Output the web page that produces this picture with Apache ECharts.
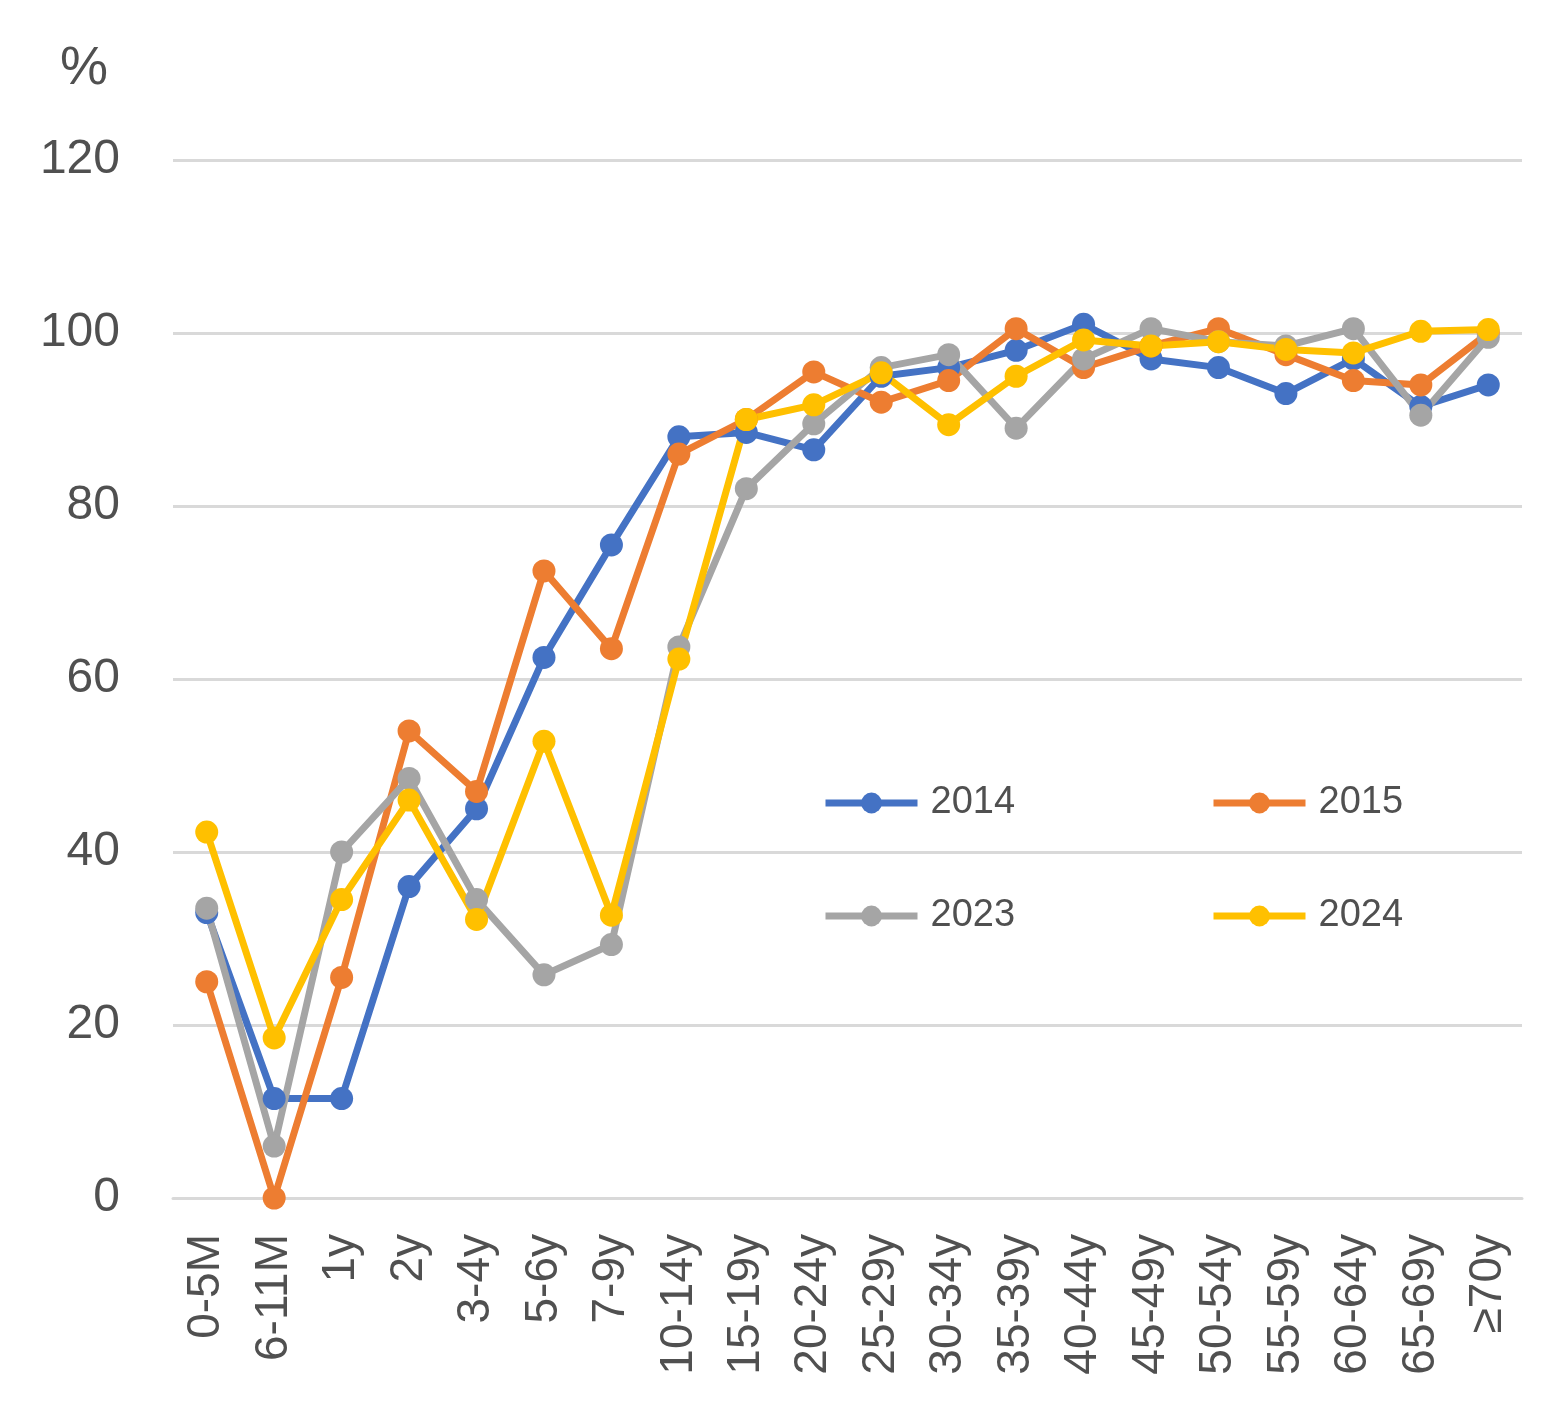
<!DOCTYPE html>
<html>
<head>
<meta charset="utf-8">
<script src="https://cdn.jsdelivr.net/npm/echarts@6/dist/echarts.min.js"></script>
<style>
html,body{margin:0;padding:0;background:#fff;}
#c{width:1560px;height:1415px;}
</style>
</head>
<body>
<div id="c"></div>
<script>
const categories = ['0-5M','6-11M','1y','2y','3-4y','5-6y','7-9y','10-14y','15-19y','20-24y','25-29y','30-34y','35-39y','40-44y','45-49y','50-54y','55-59y','60-64y','65-69y','≥70y'];
const s2014 = [33, 11.5, 11.5, 36, 45, 62.5, 75.5, 88, 88.5, 86.5, 95, 96, 98, 101, 97, 96, 93, 97, 91.5, 94];
const s2015 = [25, 0, 25.5, 54, 47, 72.5, 63.5, 86, 90, 95.5, 92, 94.5, 100.5, 96, 98.5, 100.5, 97.5, 94.5, 94, 100];
const s2023 = [33.5, 6, 40, 48.5, 34.5, 25.8, 29.3, 63.7, 82, 89.5, 96, 97.5, 89, 97, 100.5, 99, 98.5, 100.5, 90.5, 99.5];
const s2024 = [42.3, 18.5, 34.5, 46, 32.2, 52.8, 32.7, 62.3, 90, 91.7, 95.4, 89.4, 95, 99.2, 98.5, 99, 98.1, 97.7, 100.2, 100.4];
const seriesNames = ['2014','2015','2023','2024'];
const yTicks = [0, 20, 40, 60, 80, 100, 120];

const colors = ['#4472C4','#ED7D31','#A5A5A5','#FFC000'];
const font = 'Liberation Sans, Arial, sans-serif';
const chart = echarts.init(document.getElementById('c'));

function mkSeries(name, data, color) {
  return {
    name: name, type: 'line', data: data,
    symbol: 'circle', symbolSize: 23,
    lineStyle: {width: 7, color: color},
    itemStyle: {color: color},
    animation: false
  };
}
const legendPos = [[817, 779], [1205, 779], [817, 892], [1205, 892]];
chart.setOption({
  animation: false,
  color: colors,
  textStyle: {fontFamily: font},
  grid: {left: 173, right: 38, top: 160, bottom: 217, containLabel: false},
  legend: seriesNames.map((n, i) => ({
    data: [n], left: legendPos[i][0], top: legendPos[i][1],
    itemWidth: 92, itemHeight: 26, itemGap: 0,
    lineStyle: {width: 7},
    textStyle: {fontSize: 38, color: '#505050', fontFamily: font, padding: [0,0,0,8]}
  })),
  graphic: [{
    type: 'text', left: 60, top: 42,
    style: {text: '%', fontSize: 54, fill: '#505050', fontFamily: font}
  }],
  xAxis: {
    type: 'category', data: categories, boundaryGap: true,
    axisLine: {show: true, lineStyle: {color: '#D9D9D9', width: 3}},
    axisTick: {show: false},
    axisLabel: {rotate: 90, margin: 36, fontSize: 46, color: '#505050', fontFamily: font, interval: 0}
  },
  yAxis: {
    type: 'value', min: yTicks[0], max: yTicks[yTicks.length-1], interval: 20,
    axisLine: {show: false}, axisTick: {show: false},
    splitLine: {lineStyle: {color: '#D9D9D9', width: 3}},
    axisLabel: {margin: 53, fontSize: 48, color: '#505050', fontFamily: font}
  },
  series: [
    mkSeries(seriesNames[0], s2014, colors[0]),
    mkSeries(seriesNames[1], s2015, colors[1]),
    mkSeries(seriesNames[2], s2023, colors[2]),
    mkSeries(seriesNames[3], s2024, colors[3])
  ]
});
</script>
</body>
</html>
